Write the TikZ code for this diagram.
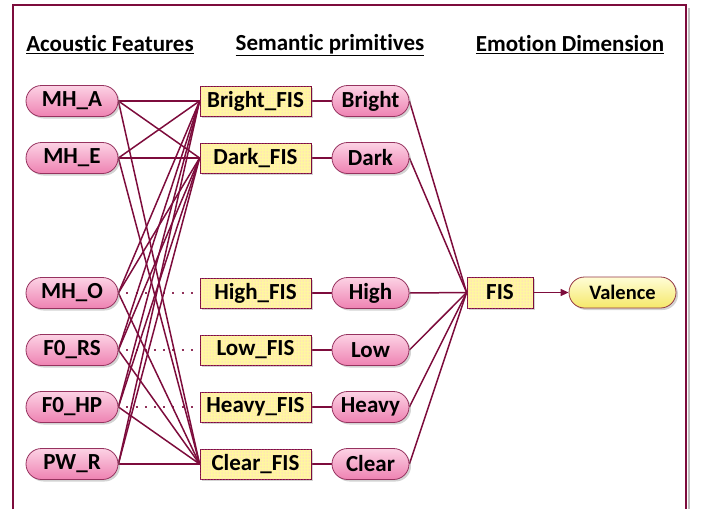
\documentclass[tikz,border=0pt]{standalone}
\usepackage{fontspec}
\setmainfont[Ligatures=NoCommon]{Carlito}
\usetikzlibrary{shapes.misc,arrows.meta,shadows,patterns,backgrounds}
\definecolor{mar}{RGB}{125,12,60}
\definecolor{pinkedge}{RGB}{150,50,95}
\definecolor{pinktop}{RGB}{252,210,228}
\definecolor{pinkbot}{RGB}{238,130,178}
\definecolor{yel}{RGB}{255,247,160}
\definecolor{yeltop}{RGB}{255,253,215}
\definecolor{yelbot}{RGB}{245,232,105}
\begin{document}
\begin{tikzpicture}[x=1pt,y=-1pt,
  shad/.style={drop shadow={shadow xshift=2pt,shadow yshift=-2pt,opacity=0.35}},
  pill/.style={rounded rectangle, draw=pinkedge, line width=0.8pt, top color=pinktop, bottom color=pinkbot,
     minimum height=31pt, inner sep=0pt, font=\bfseries\fontsize{23}{27}\selectfont, shad},
  ypill/.style={pill, draw=mar!80!yelbot, top color=yeltop, bottom color=yelbot, font=\bfseries\fontsize{20.5}{24}\selectfont},
  fisbox/.style={rectangle, draw=mar, line width=0.8pt, fill=yel, postaction={pattern=dots, pattern color=magenta!35},
     minimum height=30pt, inner sep=0pt, font=\bfseries\fontsize{23}{27}\selectfont, shad},
  head/.style={font=\bfseries\fontsize{23}{27}\selectfont, inner sep=0pt},
  con/.style={draw=mar, line width=1.5pt},
  dotcon/.style={draw=mar!85, line width=2pt, dash pattern=on 2pt off 7.2pt}
]
\useasboundingbox (0,0) rectangle (703,509);
% frame
\draw[black!25, line width=2pt] (689,8) -- (689,509);
\draw[mar, line width=1.2pt] (13,509) -- (13,5) -- (686,5) -- (686,509);

% headers
\node[head] (h1) at (110,45) {\underline{Acoustic Features}};
\node[head] (h2) at (330,45) {\underline{Semantic primitives}};
\node[head] (h3) at (570,45) {\underline{Emotion Dimension}};

% left pills
\node[pill, minimum width=92pt] (mha) at (72,101) {MH\_A};
\node[pill, minimum width=92pt] (mhe) at (72,158) {MH\_E};
\node[pill, minimum width=92pt] (mho) at (72,293) {MH\_O};
\node[pill, minimum width=92pt] (frs) at (72,350) {F0\_RS};
\node[pill, minimum width=92pt] (fhp) at (72,407) {F0\_HP};
\node[pill, minimum width=92pt] (pwr) at (72,464) {PW\_R};

% FIS boxes
\node[fisbox, minimum width=111pt] (brf) at (255.5,101) {Bright\_FIS};
\node[fisbox, minimum width=111pt] (dkf) at (255.5,158) {Dark\_FIS};
\node[fisbox, minimum width=111pt] (hif) at (255.5,293) {High\_FIS};
\node[fisbox, minimum width=111pt] (lof) at (255.5,350) {Low\_FIS};
\node[fisbox, minimum width=111pt] (hvf) at (255.5,407) {Heavy\_FIS};
\node[fisbox, minimum width=111pt] (clf) at (255.5,464) {Clear\_FIS};

% middle pills
\node[pill, minimum width=77pt] (br) at (370.5,101) {Bright};
\node[pill, minimum width=77pt] (dk) at (370.5,158) {Dark};
\node[pill, minimum width=77pt] (hi) at (370.5,293) {High};
\node[pill, minimum width=77pt] (lo) at (370.5,350) {Low};
\node[pill, minimum width=77pt] (hv) at (370.5,407) {Heavy};
\node[pill, minimum width=77pt] (cl) at (370.5,464) {Clear};

% FIS and Valence
\node[fisbox, minimum width=66pt, minimum height=31pt] (fis) at (500,292.5) {FIS};
\node[ypill, minimum width=107pt] (val) at (622.5,292.5) {Valence};

% connectors
\begin{scope}[on background layer]
\draw[dotcon] (mho.east) ++(8,0) -- (hif.west);
\draw[dotcon] (frs.east) ++(8,0) -- (lof.west);
\draw[dotcon] (fhp.east) ++(8,0) -- (hvf.west);
\foreach \s in {mha,mhe,mho,frs,fhp,pwr}
  \foreach \t in {brf,dkf,clf}
    \draw[con] (\s.east) -- (\t.west);
\foreach \a/\b in {brf/br,dkf/dk,hif/hi,lof/lo,hvf/hv,clf/cl}
  \draw[con] (\a.east) -- (\b.west);
\foreach \p in {br,dk,hi,lo,hv,cl}
  \draw[con] (\p.east) -- (fis.west);
\end{scope}
\draw[con, -{Triangle[length=8pt,width=7pt]}] (fis.east) -- (val.west);
\end{tikzpicture}
\end{document}
